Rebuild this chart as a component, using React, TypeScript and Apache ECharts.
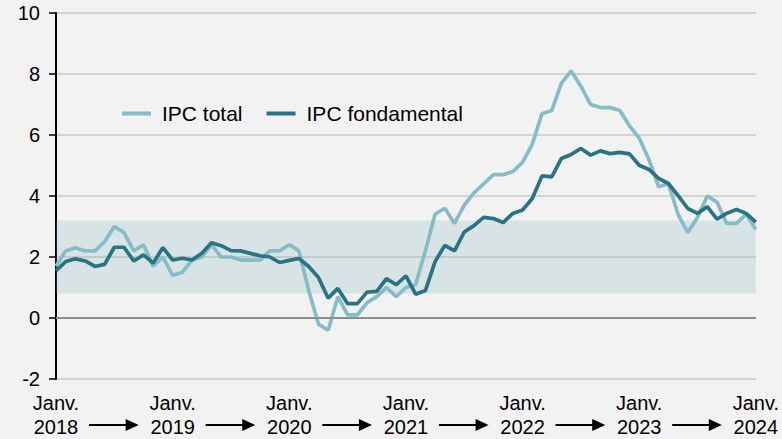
import React, { useEffect, useRef } from "react";
import * as echarts from "echarts";

const YEARS = [2018, 2019, 2020, 2021, 2022, 2023, 2024];
const MONTHS = ["Janv.", "Févr.", "Mars", "Avr.", "Mai", "Juin", "Juil.", "Août", "Sept.", "Oct.", "Nov.", "Déc."];
const CATEGORIES: string[] = YEARS.flatMap((y) => MONTHS.map((m) => `${m} ${y}`)).slice(0, 73);

const IPC_TOTAL = [
  1.7, 2.2, 2.3, 2.2, 2.2, 2.5, 3.0, 2.8, 2.2, 2.4, 1.7, 2.0,
  1.4, 1.5, 1.9, 2.0, 2.4, 2.0, 2.0, 1.9, 1.9, 1.9, 2.2, 2.2,
  2.4, 2.2, 0.9, -0.2, -0.4, 0.7, 0.1, 0.1, 0.5, 0.7, 1.0, 0.7,
  1.0, 1.1, 2.2, 3.4, 3.6, 3.1, 3.7, 4.1, 4.4, 4.7, 4.7, 4.8,
  5.1, 5.7, 6.7, 6.8, 7.7, 8.1, 7.6, 7.0, 6.9, 6.9, 6.8, 6.3,
  5.9, 5.2, 4.3, 4.4, 3.4, 2.8, 3.3, 4.0, 3.8, 3.1, 3.1, 3.4,
  2.9,
];

const IPC_FONDAMENTAL = [
  1.55, 1.85, 1.94, 1.87, 1.69, 1.76, 2.32, 2.32, 1.87, 2.07, 1.8, 2.31,
  1.9, 1.96, 1.9, 2.12, 2.47, 2.37, 2.21, 2.2, 2.12, 2.04, 2.0, 1.82,
  1.89, 1.95, 1.69, 1.33, 0.65, 0.97, 0.47, 0.47, 0.85, 0.87, 1.29, 1.09,
  1.38, 0.78, 0.9, 1.85, 2.38, 2.2, 2.82, 3.03, 3.3, 3.26, 3.13, 3.43,
  3.54, 3.92, 4.66, 4.63, 5.23, 5.36, 5.56, 5.34, 5.48, 5.39, 5.43, 5.38,
  5.01, 4.87, 4.58, 4.41, 4.01, 3.59, 3.43, 3.65, 3.24, 3.43, 3.56, 3.43,
  3.14,
];

const BAND = [0.8, 3.2];
const Y_MIN = -2;
const Y_MAX = 10;
const Y_STEP = 2;

const FONT = "'Liberation Sans', Arial, sans-serif";
const LIGHT = "#86bcc7";
const DARK = "#2a7383";

export default function App() {
  const ref = useRef<HTMLDivElement>(null);

  useEffect(() => {
    if (!ref.current) return;
    const chart = echarts.init(ref.current, undefined, { renderer: "svg" });
    chart.setOption({
      animation: false,
      backgroundColor: "#f2f2f2",
      grid: { left: 56, right: 25, top: 13, bottom: 57, containLabel: false },
      legend: {
        data: ["IPC total", "IPC fondamental"],
        left: 117,
        top: 98,
        icon: "rect",
        itemWidth: 29,
        itemHeight: 4,
        itemGap: 24,
        textStyle: { fontFamily: FONT, fontSize: 21, color: "#000", padding: [0, 0, 0, 6] },
        selectedMode: false,
      },
      xAxis: {
        type: "category",
        data: CATEGORIES,
        boundaryGap: false,
        axisLine: { show: false },
        axisTick: { show: false },
        splitLine: { show: false },
        axisLabel: {
          interval: (idx: number) => idx % 12 === 0,
          formatter: (v: string) => {
            const parts = v.split(" ");
            return `${parts[0]}\n${parts[1]}`;
          },
          fontFamily: FONT,
          fontSize: 20,
          color: "#000",
          lineHeight: 24,
          margin: 12,
        },
      },
      yAxis: {
        type: "value",
        min: Y_MIN,
        max: Y_MAX,
        interval: Y_STEP,
        axisLine: { show: true, lineStyle: { color: "#000", width: 2 } },
        axisTick: { show: true, length: 7, lineStyle: { color: "#000", width: 1.5 } },
        splitLine: { show: true, lineStyle: { color: "#c8c8c8", width: 1.5 } },
        axisLabel: { fontFamily: FONT, fontSize: 20, color: "#000", margin: 16 },
      },
      series: [
        {
          name: "band",
          type: "line",
          data: [],
          silent: true,
          z: 1,
          markArea: {
            silent: true,
            itemStyle: { color: "rgba(120,170,180,0.205)" },
            data: [[{ yAxis: BAND[0] }, { yAxis: BAND[1] }]],
          },
          markLine: {
            silent: true,
            symbol: "none",
            label: { show: false },
            lineStyle: { color: "#8c8c8c", width: 2, type: "solid" },
            data: [{ yAxis: 0 }],
          },
        },
        {
          name: "IPC total",
          type: "line",
          data: IPC_TOTAL,
          showSymbol: false,
          z: 3,
          itemStyle: { color: LIGHT },
          lineStyle: { color: LIGHT, width: 3.7 },
        },
        {
          name: "IPC fondamental",
          type: "line",
          data: IPC_FONDAMENTAL,
          showSymbol: false,
          z: 4,
          itemStyle: { color: DARK },
          lineStyle: { color: DARK, width: 3.7 },
        },
      ],
    });

    const yBase = chart.convertToPixel({ yAxisIndex: 0 }, Y_MIN) as number;
    const ay = yBase + 46;
    const elements: any[] = [];
    for (let k = 0; k < YEARS.length - 1; k++) {
      const xa = chart.convertToPixel({ xAxisIndex: 0 }, k * 12) as number;
      const xb = chart.convertToPixel({ xAxisIndex: 0 }, (k + 1) * 12) as number;
      const x1 = xa + 33;
      const x2 = xb - 34;
      elements.push({
        type: "line",
        shape: { x1, y1: ay, x2: x2 - 12, y2: ay },
        style: { stroke: "#000", lineWidth: 2.2 },
        silent: true,
      });
      elements.push({
        type: "polygon",
        shape: { points: [[x2 - 13, ay - 6], [x2, ay], [x2 - 13, ay + 6]] },
        style: { fill: "#000" },
        silent: true,
      });
    }
    chart.setOption({ graphic: { elements } });

    return () => chart.dispose();
  }, []);

  return (
    <div
      ref={ref}
      style={{ position: "fixed", left: 0, top: 0, width: 782, height: 439, background: "#f2f2f2" }}
    />
  );
}
